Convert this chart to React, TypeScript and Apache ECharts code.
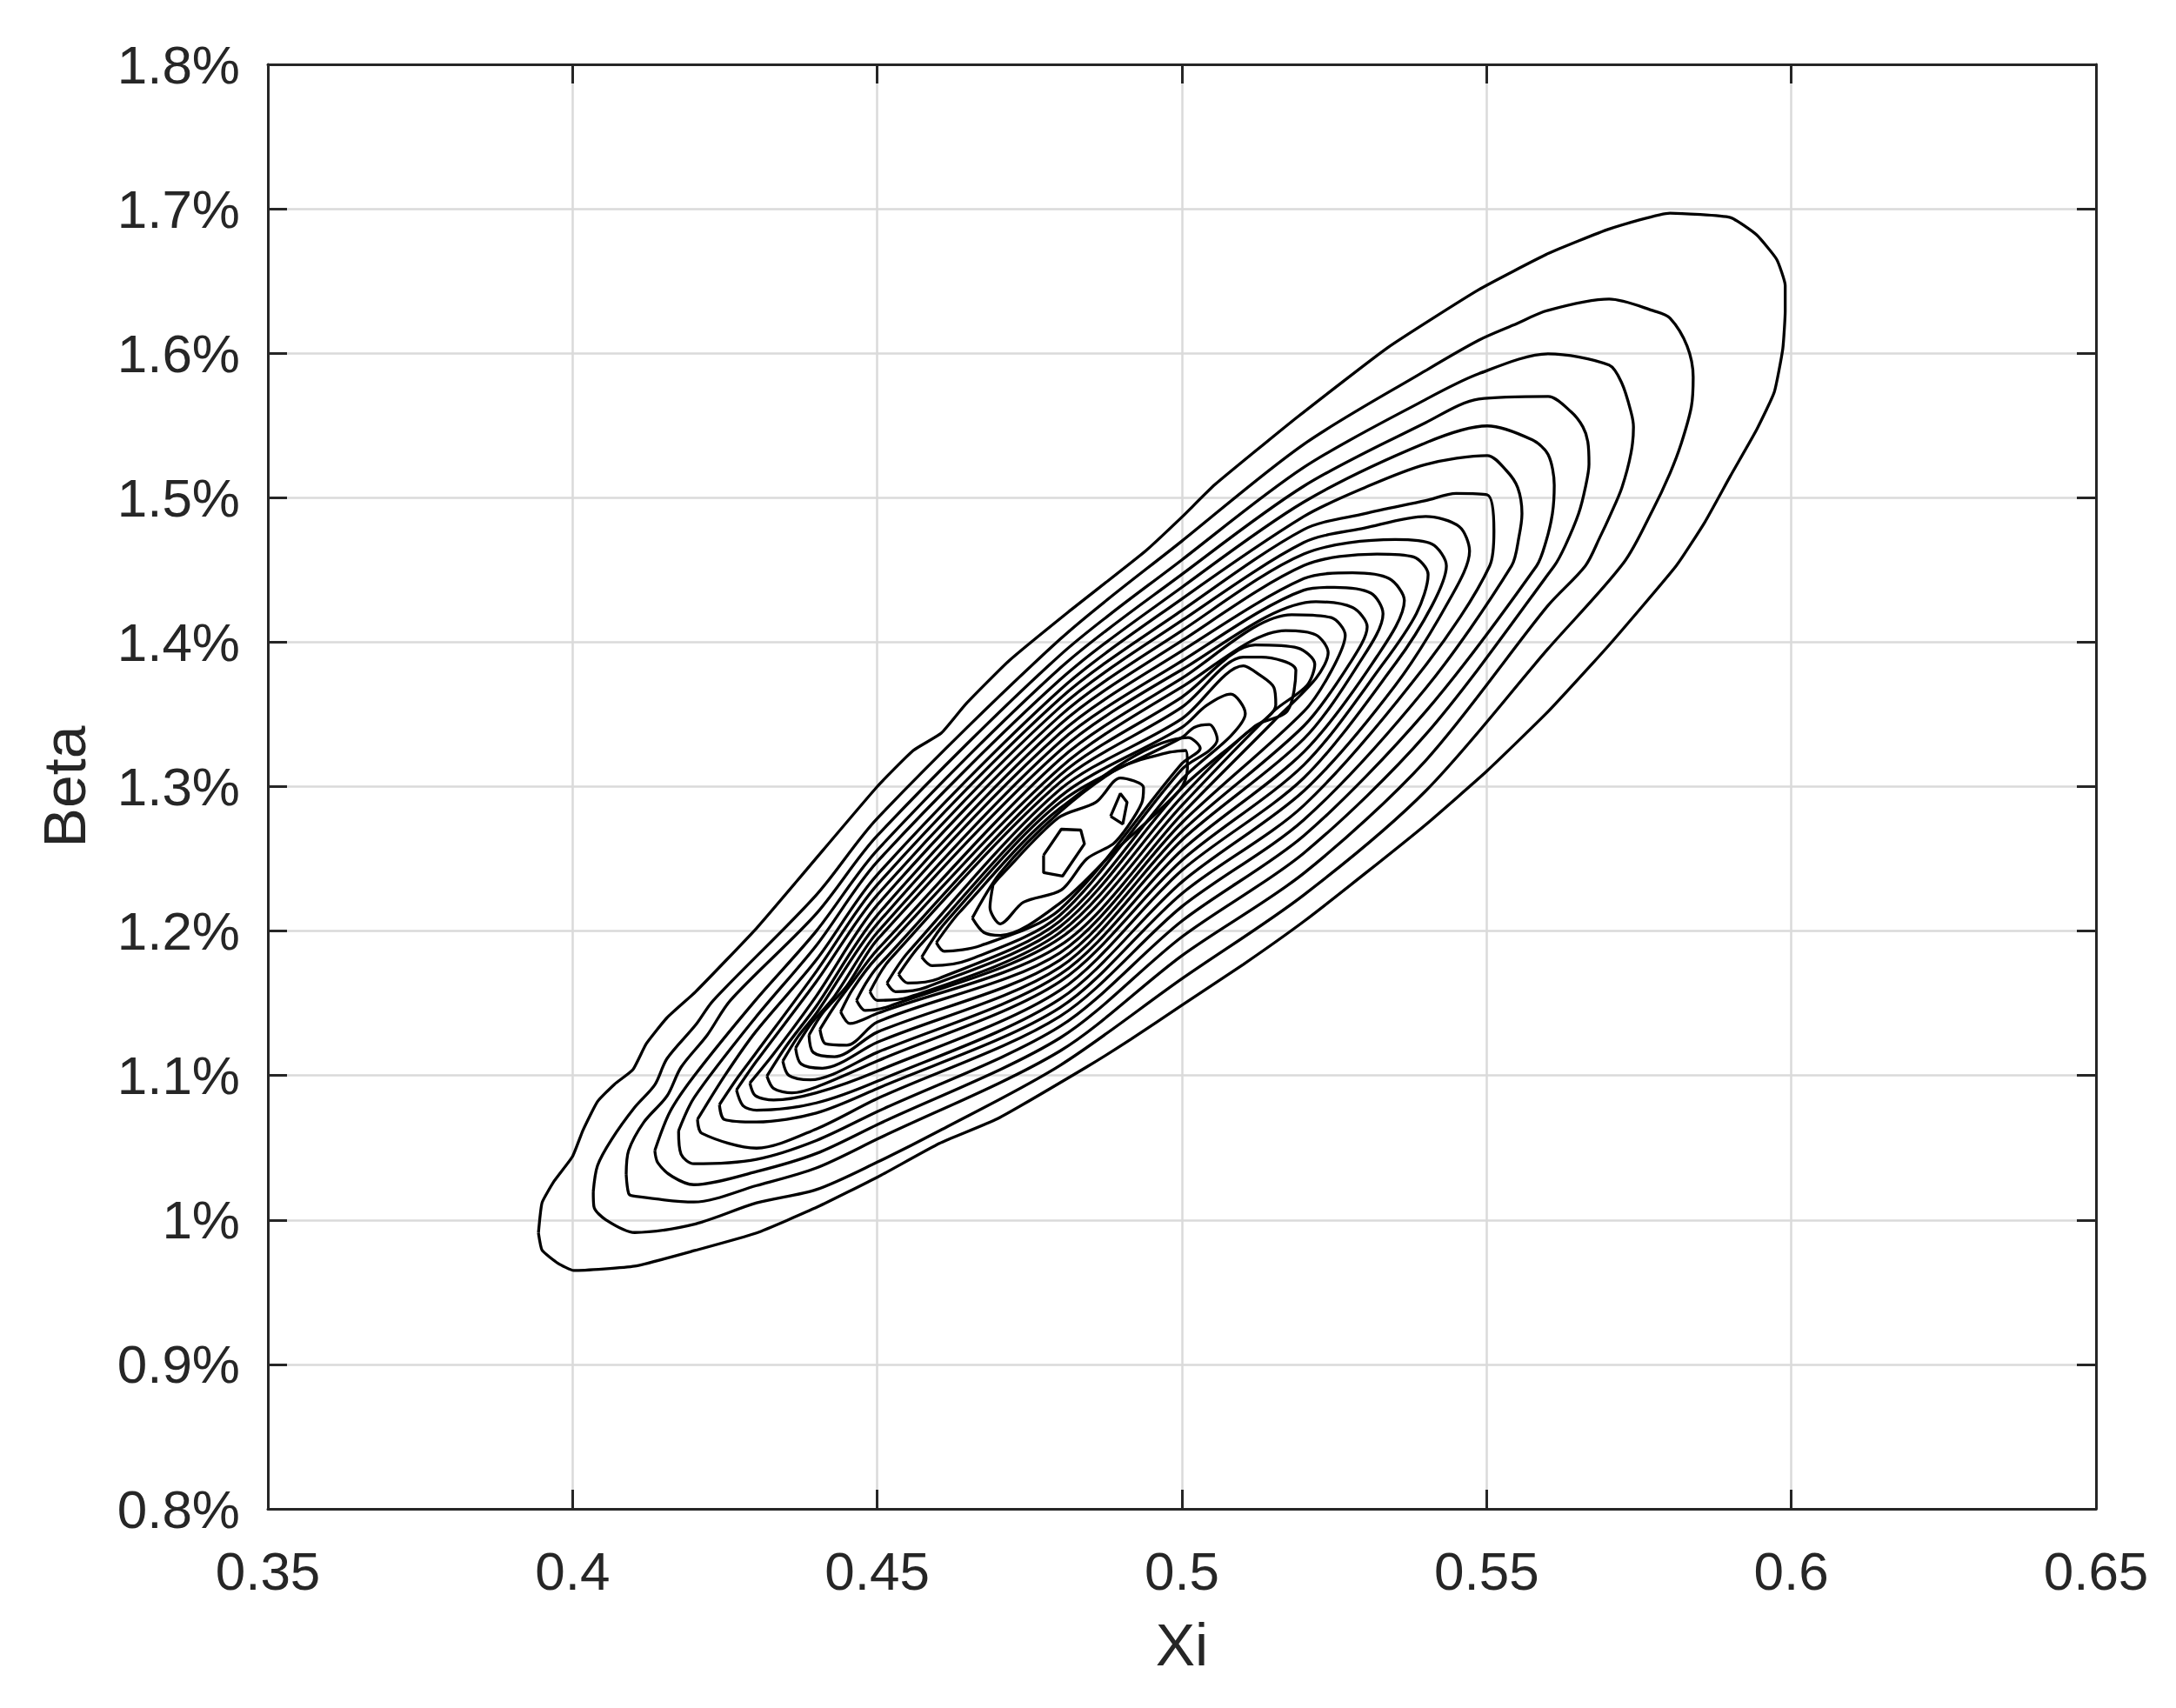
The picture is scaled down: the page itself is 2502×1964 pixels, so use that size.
import React, { useEffect, useRef } from "react";
import * as echarts from "echarts";

// Axis ranges / ticks
const X_MIN = 0.35, X_MAX = 0.65, X_STEP = 0.05;
const Y_MIN = 0.8, Y_MAX = 1.8, Y_STEP = 0.1;
const X_LABEL = "Xi";
const Y_LABEL = "Beta";

// Contour lines, outermost first: [Xi, Beta(%)]
const C01 = [[0.3944,0.991],[0.395,0.979],[0.3976,0.970],[0.4002,0.965],[0.4102,0.968],[0.4202,0.979],[0.4302,0.991],[0.4402,1.009],[0.4502,1.030],[0.4602,1.053],[0.4697,1.070],[0.4844,1.106],[0.4916,1.125],[0.5001,1.149],[0.5101,1.177],[0.5201,1.207],[0.5301,1.240],[0.5401,1.274],[0.5501,1.311],[0.5601,1.352],[0.5701,1.398],[0.5811,1.4528],[0.5858,1.483],[0.59,1.515],[0.5943,1.547],[0.5972,1.573],[0.5986,1.603],[0.599,1.629],[0.599,1.647],[0.5976,1.665],[0.5943,1.682],[0.59,1.694],[0.5801,1.697],[0.5701,1.686],[0.5601,1.669],[0.5487,1.644],[0.5338,1.604],[0.519,1.556],[0.5054,1.509],[0.5001,1.487],[0.494,1.463],[0.4814,1.421],[0.4716,1.387],[0.4645,1.357],[0.4605,1.337],[0.4559,1.325],[0.45,1.30],[0.4383,1.242],[0.4302,1.202],[0.4202,1.158],[0.4155,1.140],[0.4121,1.122],[0.4099,1.104],[0.4069,1.094],[0.4041,1.082],[0.4017,1.062],[0.40,1.044],[0.397,1.027],[0.395,1.012]];
const C02 = [[0.4034,1.0196],[0.4035,1.0094],[0.4055,1.0],[0.4102,0.9913],[0.4202,0.9973],[0.4302,1.0118],[0.44,1.021],[0.45,1.040],[0.4602,1.0617],[0.48,1.107],[0.50,1.167],[0.52,1.225],[0.54,1.297],[0.56,1.395],[0.5725,1.455],[0.5772,1.491],[0.5801,1.517],[0.5819,1.537],[0.5836,1.563],[0.5839,1.5834],[0.5829,1.605],[0.5801,1.6243],[0.5776,1.6291],[0.5701,1.6375],[0.5601,1.6297],[0.5544,1.6195],[0.5487,1.609],[0.54,1.588],[0.52,1.537],[0.50,1.470],[0.48,1.402],[0.45,1.278],[0.44,1.225],[0.4231,1.152],[0.4202,1.135],[0.4155,1.1117],[0.4135,1.0936],[0.4102,1.078],[0.4064,1.0557],[0.4041,1.0377]];
const C03 = [[0.4088,1.0316],[0.4092,1.0184],[0.4099,1.0166],[0.4199,1.0124],[0.4302,1.0238],[0.44,1.036],[0.45,1.056],[0.48,1.117],[0.50,1.183],[0.52,1.240],[0.54,1.318],[0.56,1.425],[0.5662,1.4528],[0.5686,1.4727],[0.5704,1.489],[0.5722,1.507],[0.5737,1.531],[0.5741,1.549],[0.5737,1.5593],[0.5722,1.5792],[0.5701,1.5918],[0.5601,1.5996],[0.5487,1.5858],[0.54,1.568],[0.52,1.521],[0.50,1.457],[0.48,1.391],[0.45,1.266],[0.44,1.212],[0.4259,1.152],[0.4221,1.128],[0.4178,1.1057],[0.4155,1.0858],[0.4117,1.0677],[0.4092,1.048]];
const C04 = [[0.4135,1.048],[0.414,1.0395],[0.4164,1.030],[0.4199,1.0244],[0.4302,1.0335],[0.44,1.046],[0.45,1.066],[0.48,1.126],[0.50,1.196],[0.52,1.254],[0.54,1.336],[0.5611,1.4528],[0.5629,1.4667],[0.5651,1.489],[0.5662,1.507],[0.5668,1.5232],[0.5666,1.5389],[0.5658,1.549],[0.5639,1.5593],[0.5601,1.5701],[0.5487,1.5683],[0.54,1.552],[0.52,1.508],[0.50,1.447],[0.48,1.382],[0.45,1.256],[0.44,1.200],[0.43,1.152],[0.42,1.100],[0.416,1.075]];
const C05 = [[0.4174,1.0617],[0.4178,1.0455],[0.4199,1.0389],[0.4302,1.042],[0.44,1.055],[0.45,1.075],[0.48,1.134],[0.50,1.207],[0.52,1.266],[0.54,1.352],[0.5582,1.4528],[0.5597,1.469],[0.5608,1.489],[0.5611,1.5088],[0.5601,1.5298],[0.5575,1.540],[0.5501,1.5497],[0.54,1.538],[0.52,1.497],[0.50,1.438],[0.48,1.374],[0.45,1.248],[0.44,1.19],[0.43,1.14],[0.42,1.085]];
const C06 = [[0.4205,1.0696],[0.4212,1.060],[0.4302,1.0497],[0.44,1.063],[0.45,1.084],[0.48,1.141],[0.50,1.217],[0.52,1.277],[0.54,1.368],[0.5541,1.4528],[0.5553,1.4727],[0.5558,1.489],[0.5551,1.507],[0.5532,1.519],[0.5501,1.5292],[0.54,1.523],[0.53,1.507],[0.52,1.487],[0.50,1.430],[0.48,1.367],[0.45,1.239],[0.44,1.18],[0.43,1.13],[0.425,1.10]];
const C07 = [[0.4241,1.0798],[0.4249,1.0696],[0.4302,1.0678],[0.44,1.074],[0.45,1.091],[0.48,1.147],[0.50,1.226],[0.52,1.287],[0.54,1.384],[0.5505,1.4528],[0.5512,1.4769],[0.5501,1.502],[0.545,1.503],[0.54,1.498],[0.53,1.489],[0.52,1.478],[0.50,1.422],[0.48,1.361],[0.45,1.232],[0.44,1.172],[0.43,1.115],[0.427,1.098]];
const C08 = [[0.4269,1.090],[0.428,1.079],[0.4302,1.076],[0.44,1.081],[0.45,1.096],[0.48,1.153],[0.50,1.234],[0.52,1.297],[0.535,1.37],[0.544,1.43],[0.5472,1.463],[0.5455,1.48],[0.54,1.487],[0.53,1.479],[0.52,1.469],[0.50,1.415],[0.48,1.355],[0.45,1.225],[0.44,1.165],[0.4302,1.11]];
const C09 = [[0.4291,1.0948],[0.43,1.086],[0.433,1.083],[0.44,1.088],[0.45,1.103],[0.48,1.159],[0.50,1.242],[0.52,1.306],[0.535,1.385],[0.541,1.425],[0.5434,1.4528],[0.541,1.468],[0.535,1.471],[0.52,1.461],[0.50,1.408],[0.48,1.349],[0.45,1.218],[0.44,1.155],[0.433,1.115]];
const C10 = [[0.4319,1.0996],[0.433,1.091],[0.436,1.088],[0.44,1.092],[0.45,1.110],[0.48,1.165],[0.50,1.249],[0.52,1.315],[0.533,1.385],[0.5385,1.42],[0.5404,1.4468],[0.538,1.459],[0.532,1.461],[0.52,1.453],[0.50,1.401],[0.48,1.343],[0.45,1.211],[0.44,1.148],[0.435,1.12]];
const C11 = [[0.4345,1.110],[0.4355,1.100],[0.439,1.097],[0.45,1.116],[0.48,1.170],[0.50,1.256],[0.52,1.324],[0.532,1.39],[0.5365,1.4288],[0.534,1.444],[0.528,1.448],[0.52,1.444],[0.50,1.394],[0.48,1.337],[0.45,1.205],[0.44,1.143],[0.437,1.127]];
const C12 = [[0.4366,1.119],[0.4375,1.108],[0.441,1.105],[0.45,1.123],[0.48,1.175],[0.50,1.263],[0.52,1.333],[0.529,1.385],[0.533,1.4197],[0.531,1.434],[0.525,1.438],[0.52,1.436],[0.50,1.387],[0.48,1.331],[0.45,1.199],[0.443,1.155],[0.439,1.135]];
const C13 = [[0.4388,1.128],[0.4395,1.116],[0.443,1.113],[0.45,1.130],[0.48,1.180],[0.50,1.269],[0.52,1.342],[0.5275,1.385],[0.5304,1.4107],[0.528,1.424],[0.522,1.428],[0.50,1.381],[0.48,1.325],[0.45,1.194],[0.445,1.162],[0.441,1.143]];
const C14 = [[0.4406,1.132],[0.4415,1.122],[0.445,1.121],[0.45,1.137],[0.48,1.185],[0.50,1.275],[0.52,1.352],[0.5245,1.38],[0.5268,1.4047],[0.5245,1.417],[0.518,1.419],[0.50,1.375],[0.48,1.319],[0.45,1.187],[0.446,1.165],[0.443,1.148]];
const C15 = [[0.444,1.144],[0.4455,1.136],[0.45,1.143],[0.48,1.190],[0.50,1.281],[0.515,1.345],[0.522,1.375],[0.524,1.3927],[0.522,1.405],[0.517,1.408],[0.50,1.369],[0.48,1.313],[0.45,1.182],[0.446,1.16]];
const C16 = [[0.4466,1.152],[0.448,1.145],[0.452,1.148],[0.48,1.195],[0.50,1.287],[0.515,1.352],[0.5205,1.37],[0.5218,1.3848],[0.519,1.396],[0.512,1.398],[0.50,1.362],[0.48,1.308],[0.45,1.175],[0.448,1.163]];
const C17 = [[0.4488,1.158],[0.45,1.152],[0.455,1.154],[0.48,1.199],[0.50,1.293],[0.512,1.342],[0.5173,1.3523],[0.5187,1.3806],[0.513,1.3896],[0.5101,1.3896],[0.50,1.355],[0.48,1.303],[0.452,1.18]];
const C18 = [[0.4516,1.164],[0.453,1.158],[0.458,1.161],[0.48,1.203],[0.50,1.299],[0.51,1.335],[0.5154,1.3566],[0.5151,1.3686],[0.5125,1.378],[0.5101,1.3836],[0.50,1.347],[0.48,1.298],[0.455,1.185]];
const C19 = [[0.4535,1.170],[0.455,1.164],[0.46,1.167],[0.48,1.207],[0.50,1.305],[0.508,1.335],[0.5104,1.3505],[0.508,1.364],[0.504,1.356],[0.50,1.341],[0.48,1.293],[0.457,1.19]];
const C20 = [[0.4573,1.182],[0.459,1.176],[0.465,1.18],[0.48,1.211],[0.50,1.312],[0.5045,1.325],[0.5058,1.3325],[0.5045,1.343],[0.502,1.341],[0.50,1.334],[0.48,1.289],[0.461,1.205]];
const C21 = [[0.4597,1.192],[0.461,1.186],[0.467,1.19],[0.48,1.215],[0.50,1.316],[0.503,1.3265],[0.501,1.334],[0.48,1.285],[0.4635,1.213]];
const C22 = [[0.4656,1.209],[0.4675,1.199],[0.4702,1.197],[0.4802,1.22],[0.4891,1.256],[0.4997,1.298],[0.5009,1.3126],[0.5006,1.325],[0.4977,1.3235],[0.4899,1.3133],[0.4797,1.2815],[0.4702,1.2404]];
const C23 = [[0.469,1.232],[0.4702,1.238],[0.4797,1.2783],[0.4859,1.2892],[0.4899,1.306],[0.4937,1.2994],[0.4934,1.2886],[0.4911,1.2723],[0.4887,1.2603],[0.4844,1.25],[0.4802,1.2284],[0.474,1.22],[0.4702,1.205],[0.4685,1.2164]];
const PEAK_A = [[0.4773,1.2525],[0.4802,1.2705],[0.4834,1.2699],[0.484,1.2603],[0.4804,1.238],[0.4773,1.2404]];
const PEAK_B = [[0.4883,1.2795],[0.4899,1.2952],[0.491,1.2892],[0.4903,1.2741]];

const CONTOURS = [C01, C02, C03, C04, C05, C06, C07, C08, C09, C10, C11, C12, C13, C14, C15, C16, C17, C18, C19, C20, C21, C22, C23];
const PEAKS = [PEAK_A, PEAK_B];

const INK = "#262626";
const GRID = "#dadada";
const FONT = "'Liberation Sans', Arial, Helvetica, sans-serif";

export default function App() {
  const ref = useRef<HTMLDivElement | null>(null);
  useEffect(() => {
    document.body.style.margin = "0";
    if (!ref.current) return;
    const chart = echarts.init(ref.current, undefined, { renderer: "svg" });
    const closed = (pts: number[][]) => [...pts, pts[0]];
    const series: any[] = [];
    CONTOURS.forEach((c, i) => {
      series.push({
        type: "line",
        name: "level" + (i + 1),
        data: closed(c),
        showSymbol: false,
        symbol: "none",
        smooth: i === 0 ? 0.15 : 0.3,
        lineStyle: { color: "#000", width: 3.3 },
        silent: true,
        z: 5,
      });
    });
    PEAKS.forEach((c, i) => {
      series.push({
        type: "line",
        name: "peak" + (i + 1),
        data: closed(c),
        showSymbol: false,
        symbol: "none",
        smooth: 0,
        lineStyle: { color: "#000", width: 3.3 },
        silent: true,
        z: 5,
      });
    });
    const xFmt = (v: number) => String(Number(v.toFixed(2)));
    const yFmt = (v: number) => String(Number(v.toFixed(1))) + "%";
    const axisLine = { show: true, lineStyle: { color: INK, width: 3 } };
    const axisTick = { show: true, inside: true, length: 22, lineStyle: { color: INK, width: 3 } };
    chart.setOption({
      animation: false,
      backgroundColor: "#ffffff",
      grid: { left: 308, right: 92, top: 74, bottom: 229, containLabel: false },
      xAxis: [
        {
          type: "value", min: X_MIN, max: X_MAX, interval: X_STEP, position: "bottom",
          name: X_LABEL, nameLocation: "middle", nameGap: 122,
          nameTextStyle: { color: INK, fontSize: 68, fontFamily: FONT },
          axisLine, axisTick,
          axisLabel: { color: INK, fontSize: 62, fontFamily: FONT, margin: 40, formatter: xFmt },
          splitLine: { show: true, lineStyle: { color: GRID, width: 2.5 } },
        },
        {
          type: "value", min: X_MIN, max: X_MAX, interval: X_STEP, position: "top",
          axisLine, axisTick, axisLabel: { show: false }, splitLine: { show: false },
        },
      ],
      yAxis: [
        {
          type: "value", min: Y_MIN, max: Y_MAX, interval: Y_STEP, position: "left",
          name: Y_LABEL, nameLocation: "middle", nameGap: 200, nameRotate: 90,
          nameTextStyle: { color: INK, fontSize: 68, fontFamily: FONT },
          axisLine, axisTick,
          axisLabel: { color: INK, fontSize: 62, fontFamily: FONT, margin: 32, formatter: yFmt },
          splitLine: { show: true, lineStyle: { color: GRID, width: 2.5 } },
        },
        {
          type: "value", min: Y_MIN, max: Y_MAX, interval: Y_STEP, position: "right",
          axisLine, axisTick, axisLabel: { show: false }, splitLine: { show: false },
        },
      ],
      series,
    });
    return () => chart.dispose();
  }, []);
  return <div ref={ref} style={{ width: 2502, height: 1964, background: "#fff" }} />;
}
